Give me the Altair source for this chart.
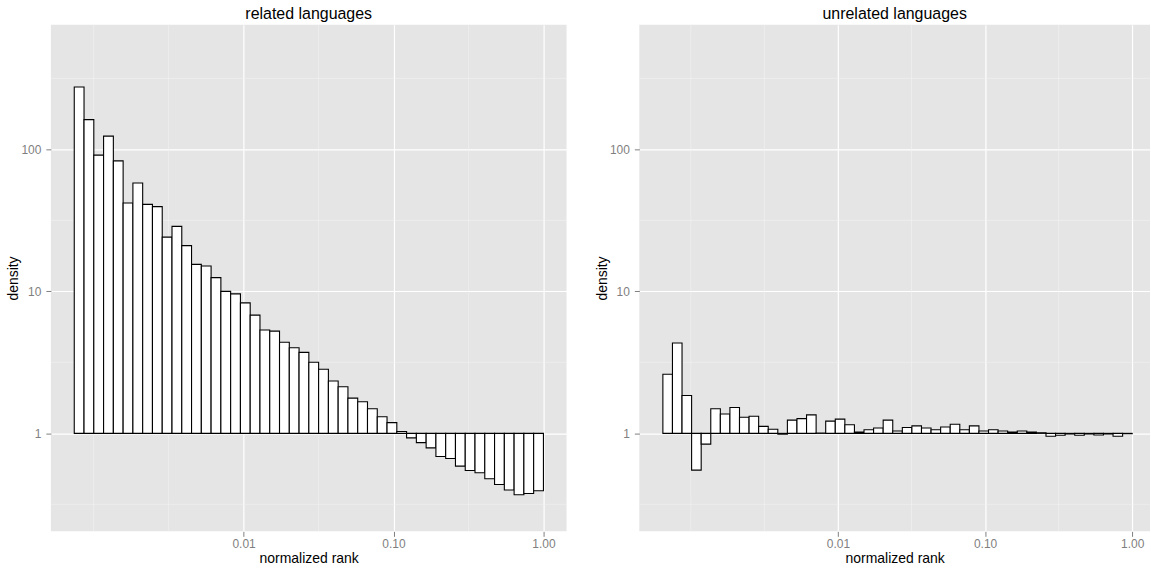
import altair as alt
import numpy as np
import pandas as pd

# Histogram of normalized rank on log10 bins; bars run from density 1 to the bin density.
related_title = "related languages"
related_log_range = (-3.129, 0.0)          # log10 of first and last bin edge
related_density = [
    275, 162, 91, 124, 83, 41.9, 57.9, 41, 39.5, 24.1,
    28.7, 21, 15.5, 15.1, 12.5, 10.0, 9.6, 8.3, 6.8, 5.34,
    5.25, 4.38, 4.01, 3.72, 3.17, 2.83, 2.34, 2.13, 1.77, 1.67,
    1.49, 1.31, 1.19, 1.03, 0.93, 0.86, 0.79, 0.687, 0.665, 0.588,
    0.548, 0.528, 0.479, 0.436, 0.399, 0.37, 0.377, 0.394,
]

unrelated_title = "unrelated languages"
unrelated_log_range = (-3.19, 0.0)
unrelated_density = [
    2.61, 4.33, 1.85, 0.551, 0.84, 1.49, 1.37, 1.52, 1.30, 1.32,
    1.12, 1.07, 0.987, 1.24, 1.27, 1.35, 1.005, 1.22, 1.26, 1.15,
    1.02, 1.06, 1.09, 1.24, 1.04, 1.10, 1.13, 1.09, 1.06, 1.11,
    1.16, 1.06, 1.13, 1.04, 1.06, 1.04, 1.02, 1.04, 1.02, 1.01,
    0.955, 0.97, 0.99, 0.97, 0.99, 0.975, 0.99, 0.955, 0.995,
]

x_ticks = [0.01, 0.1, 1.0]
y_ticks = [1, 10, 100]
x_minor = [10 ** -3.0, 10 ** -2.5, 10 ** -1.5, 10 ** -0.5]
y_minor = [10 ** 2.5, 10 ** 1.5, 10 ** 0.5, 10 ** -0.5]
y_domain = [10 ** -0.69, 10 ** 2.878]

FONT = "Liberation Sans"
PANEL_BG = "#E5E5E5"
MINOR = "#F2F2F2"
TICK_GREY = "#7F7F7F"


def bins(log_range, density):
    edges = np.logspace(log_range[0], log_range[1], len(density) + 1)
    return pd.DataFrame({
        "lo": edges[:-1],
        "hi": edges[1:],
        "density": density,
        "base": [1.0] * len(density),
    })


def panel(title, log_range, density, x_domain, width):
    xs = alt.Scale(type="log", domain=x_domain, nice=False)
    ys = alt.Scale(type="log", domain=y_domain, nice=False)
    x_axis = alt.Axis(values=x_ticks, format=".2f", title="normalized rank")
    y_axis = alt.Axis(values=y_ticks, format="d", title="density")

    bars = alt.Chart(bins(log_range, density)).mark_rect(
        fill="white", stroke="black", strokeWidth=1.1
    ).encode(
        x=alt.X("lo:Q", scale=xs, axis=x_axis),
        x2="hi:Q",
        y=alt.Y("density:Q", scale=ys, axis=y_axis),
        y2="base:Q",
    )
    vminor = alt.Chart(pd.DataFrame({"lo": x_minor})).mark_rule(
        color=MINOR, strokeWidth=0.6
    ).encode(x=alt.X("lo:Q", scale=xs, axis=x_axis))
    hminor = alt.Chart(pd.DataFrame({"density": y_minor})).mark_rule(
        color=MINOR, strokeWidth=0.6
    ).encode(y=alt.Y("density:Q", scale=ys, axis=y_axis))

    return alt.layer(vminor, hminor, bars).properties(
        width=width,
        height=508,
        title=alt.TitleParams(
            title, font=FONT, fontSize=16, fontWeight="normal",
            color="black", anchor="middle", frame="group", offset=2,
        ),
    )


left = panel(related_title, related_log_range, related_density,
             [10 ** -3.285, 10 ** 0.154], 517)
right = panel(unrelated_title, unrelated_log_range, unrelated_density,
              [10 ** -3.35, 10 ** 0.121], 512)

chart = alt.hconcat(left, right, spacing=27).properties(
    padding={"left": 6, "top": 5, "right": 0, "bottom": 0}
).configure_view(
    fill=PANEL_BG, stroke=None
).configure_axis(
    domain=False,
    grid=True,
    gridColor="white",
    gridWidth=1.2,
    tickColor=TICK_GREY,
    tickSize=5,
    tickWidth=1,
    labelColor=TICK_GREY,
    labelFont=FONT,
    labelFontSize=12,
    titleFont=FONT,
    titleFontSize=14,
    titleFontWeight="normal",
    titleColor="black",
).configure_axisX(
    labelPadding=2, titlePadding=2
).configure_axisY(
    labelPadding=5, titlePadding=0
)

chart.save("out.html", embed_options={"renderer": "svg", "actions": False})
